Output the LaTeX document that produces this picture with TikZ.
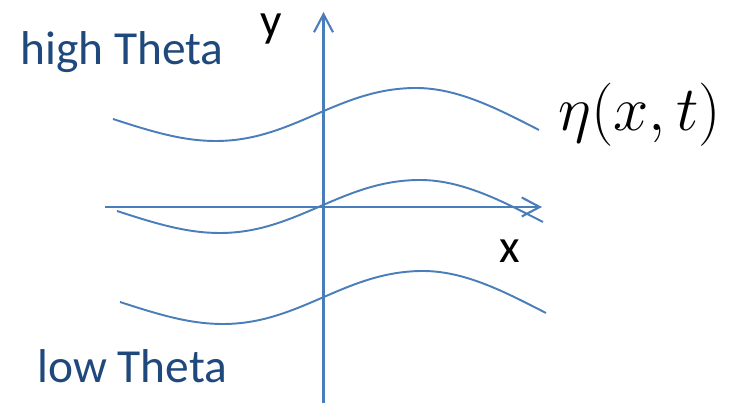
\RequirePackage{fix-cm}
\documentclass[tikz,border=0pt]{standalone}
\usepackage{fontspec}
\setmainfont{Carlito}
\usepackage{xcolor}
\usepackage{tikz}
\usetikzlibrary{arrows.meta}
\definecolor{lineblue}{HTML}{4A7EBB}
\definecolor{textblue}{HTML}{1F497D}

\begin{document}
\begin{tikzpicture}[
    axis/.style={line width=1.2pt, lineblue, -{Straight Barb[length=3.6mm, width=3.8mm, line width=1.2pt]}},
    wave/.style={line width=1.1pt, lineblue},
    thetalabel/.style={anchor=base west, inner sep=0pt, textblue, font=\fontsize{27}{30}\selectfont},
    axislabel/.style={inner sep=0pt, black, font=\fontsize{27}{30}\selectfont}]
  \useasboundingbox (0,0) rectangle (14.78,8.06);
  % axes
  \coordinate (xstart) at (2.10,3.92);
  \coordinate (xend) at (10.84,3.92);
  \coordinate (ystart) at (6.47,0);
  \coordinate (yend) at (6.47,7.82);
  \draw[axis] (xstart) -- (xend);
  \draw[axis] (ystart) -- (yend);
  % waves (high, middle, low)
  \foreach \sx/\sy in {2.26/5.68, 2.34/3.84, 2.40/2.02}{
    \draw[wave, shift={(\sx,\sy)}] (0,0) .. controls (0.8,-0.26) and (1.4,-0.44)
      .. (2.06,-0.44) .. controls (3.6,-0.44) and (4.5,0.62)
      .. (6.06,0.62) .. controls (6.9,0.62) and (7.7,0.20) .. (8.52,-0.22);
  }
  % labels
  \node[axislabel] (ylabel) at (5.42,7.48) {y};
  \node[axislabel] (xlabel) at (10.20,3.04) {x};
  \node[thetalabel] (high) at (0.40,6.76) {high Theta};
  \node[thetalabel] (low) at (0.74,0.40) {low Theta};
  \node[anchor=west, inner sep=0pt, font=\fontsize{36}{40}\selectfont] (eta) at (11.16,5.76) {$\eta(x,t)$};
\end{tikzpicture}
\end{document}
